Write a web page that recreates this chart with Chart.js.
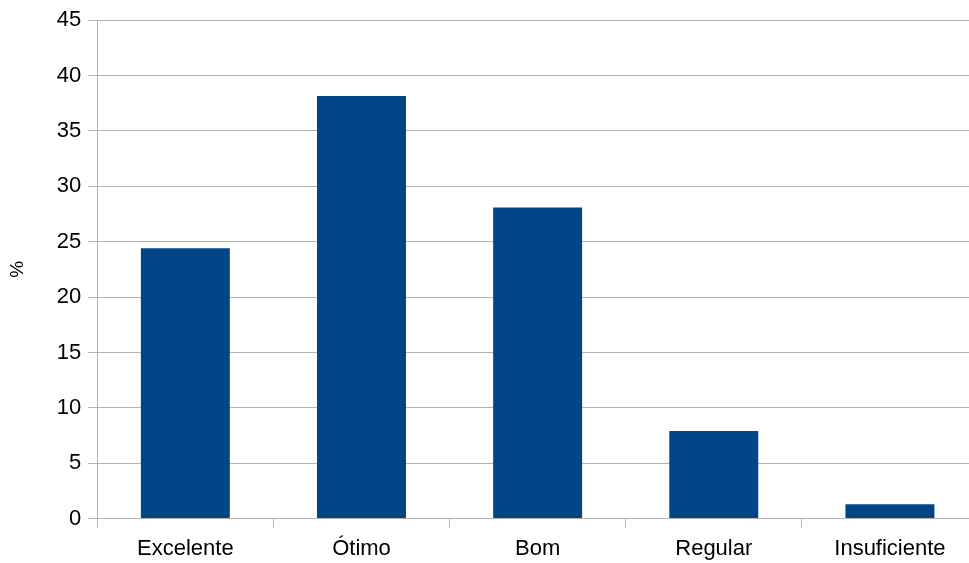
<!DOCTYPE html>
<html>
<head>
<meta charset="utf-8">
<script src="https://cdn.jsdelivr.net/npm/chart.js@4"></script>
<style>
    html, body { margin: 0; padding: 0; background: #fff; overflow: hidden; }
    #wrap { width: 969px; height: 563px; overflow: hidden; }
    canvas { display: block; }
</style>
</head>
<body>
<div id="wrap"><canvas id="ratingChart" width="980" height="570"></canvas></div>
<script>
    const categories = ['Excelente', 'Ótimo', 'Bom', 'Regular', 'Insuficiente'];
    const percentages = [24.4, 38.15, 28.1, 7.9, 1.3];
    const yTicks = [0, 5, 10, 15, 20, 25, 30, 35, 40, 45];

    const gridColor = '#b3b3b3';
    const ctx = document.getElementById('ratingChart').getContext('2d');

    new Chart(ctx, {
        type: 'bar',
        data: {
            labels: categories,
            datasets: [{
                label: '%',
                data: percentages,
                backgroundColor: '#004586',
                borderWidth: 0,
                barPercentage: 1,
                categoryPercentage: 0.505
            }]
        },
        options: {
            responsive: false,
            animation: false,
            layout: { padding: { top: 7, right: 2, bottom: 0, left: 0 } },
            plugins: {
                legend: { display: false },
                tooltip: { enabled: false }
            },
            scales: {
                x: {
                    grid: {
                        offset: true,
                        drawOnChartArea: false,
                        drawTicks: true,
                        tickLength: 9,
                        color: gridColor
                    },
                    border: { color: gridColor },
                    ticks: {
                        color: '#000',
                        padding: 8,
                        font: { family: 'Liberation Sans', size: 22 }
                    }
                },
                y: {
                    min: 0,
                    max: 45,
                    afterBuildTicks: function (scale) {
                        scale.ticks = yTicks.map(v => ({ value: v }));
                    },
                    grid: {
                        color: gridColor,
                        tickLength: 9
                    },
                    border: { color: gridColor },
                    ticks: {
                        color: '#000',
                        padding: 7,
                        font: { family: 'Liberation Sans', size: 22 }
                    },
                    title: {
                        display: true,
                        text: '%',
                        color: '#000',
                        padding: { top: 6, bottom: 21 },
                        font: { family: 'Liberation Sans', size: 19 }
                    }
                }
            }
        }
    });
</script>
</body>
</html>
